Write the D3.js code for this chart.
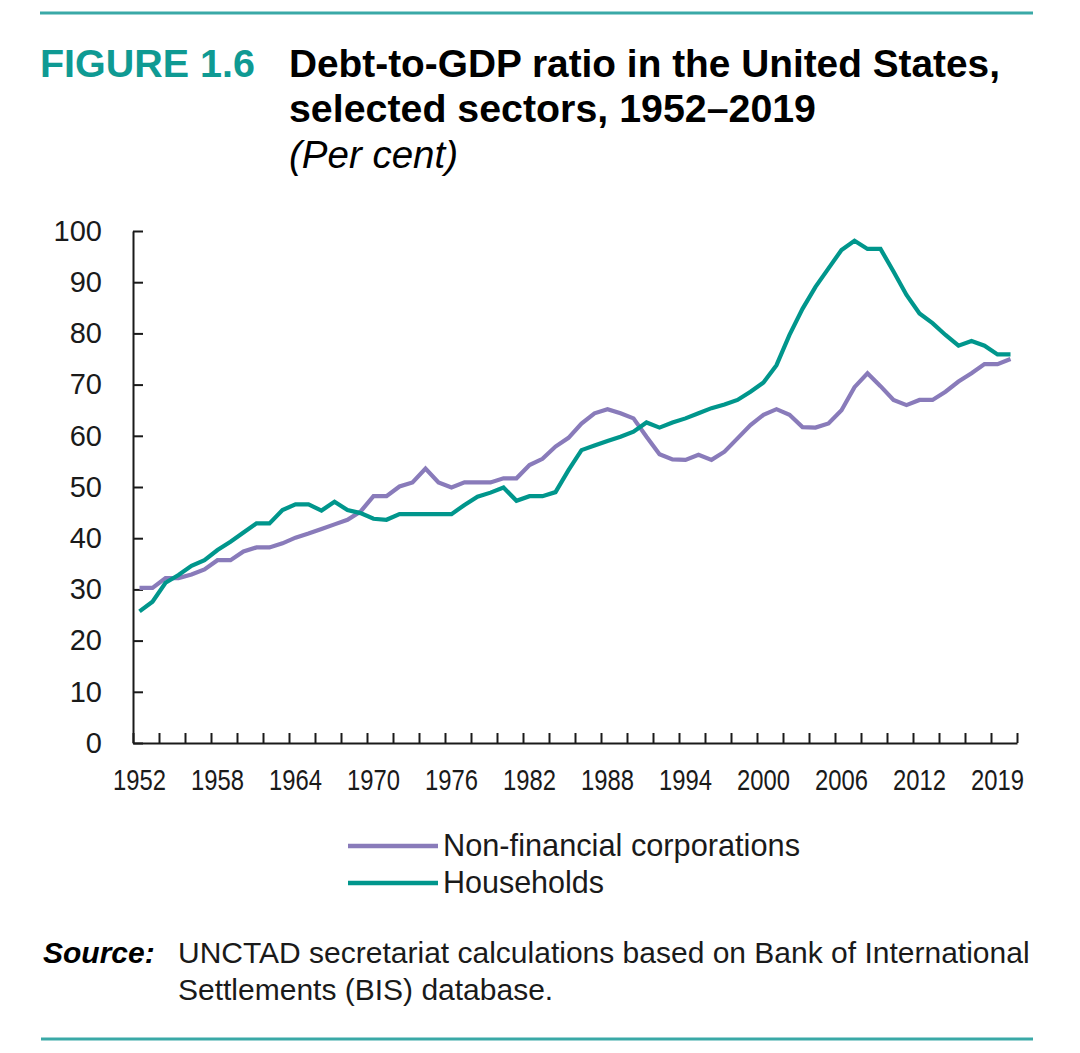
<!DOCTYPE html>
<html>
<head>
<meta charset="utf-8">
<script src="https://cdn.jsdelivr.net/npm/d3@7"></script>
<style>
  html, body { margin: 0; padding: 0; background: #fff; }
  svg { display: block; font-family: "Liberation Sans", Arial, sans-serif; }
</style>
</head>
<body>
<svg id="chart" width="1080" height="1053"></svg>
<script>
// ---- Data ----
const years = d3.range(1952, 2020);
const nonFinancialCorporations = [
  30.3, 30.3, 32.2, 32.2, 32.9, 33.9, 35.7, 35.7, 37.4, 38.2,
  38.2, 39.0, 40.1, 40.9, 41.8, 42.7, 43.6, 45.2, 48.2, 48.2,
  50.1, 50.9, 53.6, 50.9, 49.9, 50.9, 50.9, 50.9, 51.7, 51.7,
  54.3, 55.5, 57.9, 59.6, 62.4, 64.4, 65.2, 64.4, 63.4, 59.8,
  56.4, 55.4, 55.3, 56.3, 55.3, 56.9, 59.5, 62.1, 64.1, 65.2,
  64.1, 61.7, 61.6, 62.4, 65.0, 69.5, 72.2, 69.7, 67.0, 66.0,
  67.0, 67.0, 68.6, 70.6, 72.2, 74.0, 74.0, 75.0
];
const households = [
  25.7, 27.6, 31.3, 32.8, 34.6, 35.7, 37.7, 39.3, 41.1, 42.9,
  42.9, 45.5, 46.6, 46.6, 45.4, 47.1, 45.5, 44.9, 43.8, 43.6,
  44.7, 44.7, 44.7, 44.7, 44.7, 46.5, 48.1, 48.9, 49.9, 47.3,
  48.2, 48.2, 49.0, 53.3, 57.2, 58.1, 59.0, 59.8, 60.8, 62.6,
  61.6, 62.6, 63.4, 64.4, 65.4, 66.1, 67.0, 68.6, 70.4, 73.8,
  79.7, 84.8, 89.1, 92.7, 96.3, 98.1, 96.5, 96.5, 92.1, 87.5,
  83.9, 82.0, 79.7, 77.6, 78.5, 77.6, 75.9, 75.9
];
const yTicks = [0, 10, 20, 30, 40, 50, 60, 70, 80, 90, 100];
const xLabelYears = [1952, 1958, 1964, 1970, 1976, 1982, 1988, 1994, 2000, 2006, 2012, 2018];
const xTickLabels = ["1952", "1958", "1964", "1970", "1976", "1982", "1988", "1994", "2000", "2006", "2012", "2019"];
const seriesNames = ["Non-financial corporations", "Households"];

// ---- Style ----
const TEAL = "#00968c";
const PURPLE = "#897bba";
const RULE = "#3aa9a7";
const INK = "#1a1a1a";

const svg = d3.select("#chart");

// Rules
svg.append("line").attr("x1", 40).attr("x2", 1033).attr("y1", 13).attr("y2", 13)
  .attr("stroke", RULE).attr("stroke-width", 3);
svg.append("line").attr("x1", 41).attr("x2", 1033).attr("y1", 1039).attr("y2", 1039)
  .attr("stroke", RULE).attr("stroke-width", 3);

// Title
svg.append("text").attr("x", 40).attr("y", 77).attr("fill", "#0f9a93")
  .attr("font-weight", "bold").attr("font-size", 38.5)
  .attr("textLength", 215).attr("lengthAdjust", "spacingAndGlyphs").text("FIGURE 1.6");
svg.append("text").attr("x", 289).attr("y", 77).attr("fill", "#000")
  .attr("font-weight", "bold").attr("font-size", 38.5)
  .attr("textLength", 711).attr("lengthAdjust", "spacingAndGlyphs").text("Debt-to-GDP ratio in the United States,");
svg.append("text").attr("x", 289).attr("y", 122).attr("fill", "#000")
  .attr("font-weight", "bold").attr("font-size", 38.5)
  .attr("textLength", 527).attr("lengthAdjust", "spacingAndGlyphs").text("selected sectors, 1952–2019");
svg.append("text").attr("x", 289).attr("y", 168).attr("fill", "#000")
  .attr("font-style", "italic").attr("font-size", 38.5).text("(Per cent)");

// ---- Scales ----
const x0 = 133, x1 = 1017, yTop = 231, yBot = 743;
const x = d3.scaleBand().domain(years).range([x0, x1]).padding(0);
const xb = d3.scaleLinear().domain([1952, 2020]).range([x0, x1]);
const y = d3.scaleLinear().domain([0, 100]).range([yBot, yTop]);

// Y axis
const yAxis = d3.axisLeft(y).tickValues(yTicks).tickSizeInner(-10).tickSizeOuter(0).tickPadding(31);
const gy = svg.append("g").attr("transform", `translate(${x0},0)`).call(yAxis);
gy.select(".domain").attr("stroke", INK).attr("stroke-width", 2);
gy.selectAll(".tick line").attr("stroke", INK).attr("stroke-width", 2);
gy.selectAll(".tick text").attr("font-size", 29).attr("fill", INK)
  .attr("font-family", "Liberation Sans, Arial, sans-serif");

// X axis ticks (category boundaries every 2 years)
const xAxisTicks = d3.axisBottom(xb).tickValues(d3.range(1952, 2021, 2))
  .tickSizeInner(-10).tickSizeOuter(0).tickFormat("");
const gx = svg.append("g").attr("transform", `translate(0,${yBot})`).call(xAxisTicks);
gx.select(".domain").attr("stroke", INK).attr("stroke-width", 2);
gx.selectAll(".tick line").attr("stroke", INK).attr("stroke-width", 2);

// X axis labels (band centres)
const xAxisLabels = d3.axisBottom(x).tickValues(xLabelYears).tickSize(0).tickPadding(26)
  .tickFormat((d, i) => xTickLabels[i]);
const gxl = svg.append("g").attr("transform", `translate(0,${yBot})`).call(xAxisLabels);
gxl.select(".domain").remove();
gxl.selectAll(".tick text").attr("font-size", 30).attr("fill", INK)
  .attr("font-family", "Liberation Sans, Arial, sans-serif")
  .attr("textLength", 53).attr("lengthAdjust", "spacingAndGlyphs");

// ---- Lines ----
const line = d3.line().x((d, i) => x(years[i]) + x.bandwidth() / 2).y(d => y(d));
svg.append("path").datum(nonFinancialCorporations).attr("d", line)
  .attr("fill", "none").attr("stroke", PURPLE).attr("stroke-width", 4.2);
svg.append("path").datum(households).attr("d", line)
  .attr("fill", "none").attr("stroke", TEAL).attr("stroke-width", 4.2);

// ---- Legend ----
const legend = [
  { name: seriesNames[0], color: PURPLE, y: 846, w: 357 },
  { name: seriesNames[1], color: TEAL, y: 883, w: 161 }
];
legend.forEach(l => {
  svg.append("line").attr("x1", 348).attr("x2", 438).attr("y1", l.y).attr("y2", l.y)
    .attr("stroke", l.color).attr("stroke-width", 4.5);
  svg.append("text").attr("x", 443).attr("y", l.y + 10).attr("font-size", 30.5)
    .attr("textLength", l.w).attr("lengthAdjust", "spacingAndGlyphs")
    .attr("fill", INK).text(l.name);
});

// ---- Source ----
svg.append("text").attr("x", 43).attr("y", 963).attr("font-size", 30)
  .attr("font-weight", "bold").attr("font-style", "italic").attr("fill", "#000").text("Source:");
svg.append("text").attr("x", 178).attr("y", 963).attr("font-size", 30).attr("fill", INK)
  .text("UNCTAD secretariat calculations based on Bank of International");
svg.append("text").attr("x", 178).attr("y", 1000).attr("font-size", 30).attr("fill", INK)
  .text("Settlements (BIS) database.");
</script>
</body>
</html>
